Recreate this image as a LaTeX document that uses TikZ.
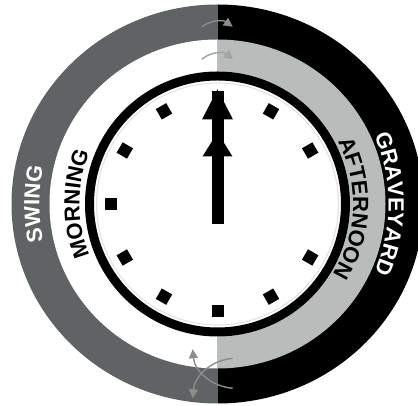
\documentclass[tikz,border=0pt]{standalone}
\usepackage{fontspec}
\setsansfont{Liberation Sans}
\usetikzlibrary{arrows.meta}
\usetikzlibrary{decorations.text}

\definecolor{swinggray}{RGB}{95,99,99}
\definecolor{noongray}{RGB}{184,188,187}
\definecolor{cuegray}{RGB}{140,140,140}
\definecolor{cuelight}{RGB}{163,163,163}
\newcommand\shiftfont{\sffamily\bfseries\fontsize{22}{24}\selectfont}

\begin{document}
\begin{tikzpicture}[x=1pt,y=1pt,
  tickmark/.style={fill=black,minimum size=12pt,inner sep=0pt},
  cue/.style={line width=1.4pt,-{Triangle[length=9pt,width=9pt]}}]
\useasboundingbox (0,0) rectangle (418,406);
\coordinate (C) at (217.5,202);

% outer band: swing | graveyard
\fill[swinggray] ([yshift=199.5pt]C) arc[start angle=90,end angle=270,x radius=206,y radius=199.5] -- cycle;
\fill[black] ([yshift=199.5pt]C) arc[start angle=90,end angle=-90,x radius=206,y radius=199.5] -- cycle;
% inner band: morning | afternoon
\fill[white] ([yshift=164.5pt]C) arc[start angle=90,end angle=270,x radius=168,y radius=164.5] -- cycle;
\fill[noongray] ([yshift=164.5pt]C) arc[start angle=90,end angle=-90,x radius=168,y radius=164.5] -- cycle;

% clock face
\fill[white] (C) circle[radius=132.5];
\draw[line width=9pt] (C) circle[radius=128];
\draw[black!12,line width=1pt] (C) circle[radius=121];

% band labels
\path[decorate,decoration={text along path,text align=center,text color=white,
  text={|\shiftfont|SWING}}] ([shift={(240:178)}]C) arc[start angle=240,end angle=120,radius=178];
\path[decorate,decoration={text along path,text align=center,text color=black,
  text={|\shiftfont|MORNING}}] ([shift={(240:138)}]C) arc[start angle=240,end angle=120,radius=138];
\path[decorate,decoration={text along path,text align=center,text color=black,
  text={|\shiftfont|AFTERNOON}}] ([shift={(58:135.5)}]C) arc[start angle=58,end angle=-62,radius=135.5];
\path[decorate,decoration={text along path,text align=center,text color=white,
  text={|\shiftfont|GRAVEYARD}}] ([shift={(60:171)}]C) arc[start angle=60,end angle=-60,radius=171];

% hour ticks (12 o'clock sits under the hand)
\foreach \a in {30,60,...,330}
  \node[tickmark,rotate=\a] (tick\a) at ([shift={(\a:107)}]C) {};

% hand
\begin{scope}[shift={(C)}]
  \fill (-6,-20.5) rectangle (6,85);
  \fill (-15.5,84.5) -- (0,114.5) -- (15.5,84.5) -- cycle;
  \fill (-15,47.5) -- (0,71.5) -- (15,47.5) -- cycle;
\end{scope}

% shift change cues
\coordinate (outerfrom) at (201.7,379.3);
\coordinate (outerto) at (232.7,379.3);
\coordinate (innerfrom) at (201.7,346.7);
\coordinate (innerto) at (233,346.7);
\coordinate (upfrom) at (232.7,17.7);
\coordinate (upto) at (192.7,56.7);
\coordinate (downfrom) at (232.7,47.7);
\coordinate (downto) at (192.7,7.7);
\draw[cue,cuegray] (outerfrom) to[bend left=35] (outerto);
\draw[cue,cuelight] (innerfrom) to[bend left=40] (innerto);
\draw[cue,cuegray] (upfrom) to[out=175,in=-85] (upto);
\draw[cue,cuegray] (downfrom) to[out=185,in=85] (downto);
\end{tikzpicture}
\end{document}
